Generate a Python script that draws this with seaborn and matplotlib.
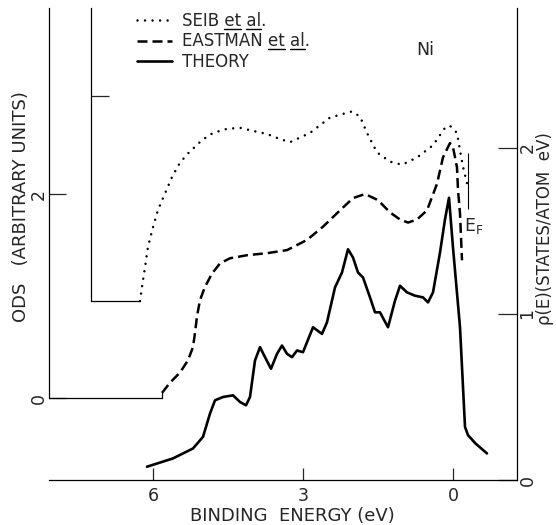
import numpy as np
import pandas as pd
import matplotlib
matplotlib.use("Agg")
import matplotlib.pyplot as plt
import seaborn as sns
from matplotlib.lines import Line2D

sns.set_style("white")
plt.rcParams['font.family'] = ['DejaVu Sans']

# ---------------- data ----------------
# Theory density of states (right axis, states/atom eV)
theory_E = [6.12, 5.6, 5.2, 5.0, 4.86, 4.76, 4.6, 4.4, 4.26, 4.14, 4.06, 3.96, 3.86,
            3.76, 3.64, 3.52, 3.42, 3.32, 3.22, 3.12, 3.0, 2.92, 2.8, 2.62, 2.52,
            2.36, 2.22, 2.1, 2.0, 1.9, 1.8, 1.66, 1.56, 1.46, 1.3, 1.16, 1.06, 0.92,
            0.76, 0.6, 0.5, 0.4, 0.26, 0.16, 0.08, 0.0, -0.14, -0.24, -0.3, -0.45, -0.68]
theory_rho = [0.08, 0.13, 0.19, 0.26, 0.40, 0.48, 0.50, 0.51, 0.47, 0.45, 0.50, 0.72, 0.80,
              0.74, 0.67, 0.76, 0.81, 0.76, 0.74, 0.78, 0.77, 0.83, 0.92, 0.88, 0.95,
              1.16, 1.25, 1.39, 1.34, 1.25, 1.22, 1.10, 1.01, 1.01, 0.92, 1.08, 1.17, 1.13,
              1.11, 1.10, 1.07, 1.13, 1.37, 1.57, 1.70, 1.40, 0.92, 0.32, 0.27, 0.22, 0.16]

# Eastman et al. (outer left ODS axis)
eastman_E = [5.82, 5.66, 5.46, 5.3, 5.2, 5.16, 5.12, 5.06, 4.96, 4.82, 4.66, 4.46, 4.12,
             3.72, 3.32, 2.92, 2.6, 2.26, 2.0, 1.76, 1.5, 1.26, 1.06, 0.9, 0.72, 0.52,
             0.32, 0.2, 0.06, 0.0, -0.08, -0.1, -0.14, -0.18]
eastman_ods = [0.05, 0.15, 0.25, 0.37, 0.50, 0.64, 0.80, 0.96, 1.09, 1.22, 1.32, 1.37, 1.40,
               1.42, 1.45, 1.55, 1.68, 1.84, 1.96, 2.0, 1.94, 1.82, 1.75, 1.72, 1.75, 1.84,
               2.1, 2.36, 2.5, 2.46, 2.26, 2.04, 1.81, 1.35]

# Seib et al. (inner left ODS axis)
seib_E = [6.26, 6.22, 6.16, 6.1, 6.0, 5.9, 5.76, 5.62, 5.46, 5.3, 5.02, 4.8, 4.52, 4.26,
          4.0, 3.72, 3.46, 3.26, 2.86, 2.46, 2.02, 1.86, 1.72, 1.52, 1.26, 1.02, 0.72,
          0.4, 0.16, 0.06, -0.08, -0.14, -0.2, -0.28, -0.32]
seib_ods = [0.0, 0.14, 0.33, 0.53, 0.72, 0.89, 1.05, 1.21, 1.35, 1.44, 1.57, 1.64, 1.68, 1.69,
            1.66, 1.63, 1.58, 1.55, 1.64, 1.79, 1.85, 1.80, 1.64, 1.45, 1.36, 1.33, 1.40,
            1.52, 1.69, 1.71, 1.64, 1.47, 1.31, 1.15, 1.10]

x_ticks = [6, 3, 0]
rho_ticks = [0, 1, 2]
ods_ticks = [0, 2]
labels = ["SEIB et al.", "EASTMAN et al.", "THEORY"]

# ---------------- figure ----------------
W, H = 556, 525
fig = plt.figure(figsize=(W / 100, H / 100), dpi=100)
x0p, x1p, y0p, y1p = 49, 517, 480, 8
ax = fig.add_axes([x0p / W, (H - y0p) / H, (x1p - x0p) / W, (y0p - y1p) / H])
ax.patch.set_alpha(0)

xl = (8.08, -1.28)
ax.set_xlim(*xl)
ax.set_ylim(0, 2.843)

ax2 = ax.twinx()
ax2.set_ylim(-0.804, 3.824)
ax3 = ax.twinx()
ax3.set_ylim(-1.746, 2.859)
for a in (ax2, ax3):
    a.patch.set_alpha(0)

lw_ax = 0.9
for s in ['top', 'left']:
    ax.spines[s].set_visible(False)
for s in ['bottom', 'right']:
    ax.spines[s].set_linewidth(lw_ax)
    ax.spines[s].set_color('black')
for a in (ax2, ax3):
    for s in ['top', 'right', 'bottom']:
        a.spines[s].set_visible(False)
    a.spines['left'].set_linewidth(lw_ax)
    a.spines['left'].set_color('black')
    a.spines['left'].set_visible(True)

ax2.spines['left'].set_bounds(0, ax2.get_ylim()[1])
inner_x = 7.24
ax3.spines['left'].set_position(('data', inner_x))
ax3.spines['left'].set_bounds(0, ax3.get_ylim()[1])

# ticks
ax.set_xticks(x_ticks)
ax.set_xticklabels([str(v) for v in x_ticks])
ax.tick_params(axis='x', direction='in', length=8.6, width=lw_ax, pad=5,
               labelsize=12.5, top=False, bottom=True)
ax.yaxis.set_ticks_position('right')
ax.set_yticks(rho_ticks)
ax.set_yticklabels([str(v) for v in rho_ticks])
ax.tick_params(axis='y', direction='in', length=13.5, width=lw_ax, pad=1,
               labelsize=12.5, labelrotation=90, left=False, right=True,
               labelleft=False, labelright=True)
for t in ax.get_yticklabels():
    t.set_va('center')

ax2.yaxis.set_ticks_position('left')
ax2.set_yticks(ods_ticks)
ax2.set_yticklabels([str(v) for v in ods_ticks])
ax2.tick_params(axis='y', direction='in', length=12, width=lw_ax, pad=1,
                labelsize=12.5, labelrotation=90, left=True, right=False,
                labelleft=True, labelright=False)
for t in ax2.get_yticklabels():
    t.set_va('center')

ax3.yaxis.set_ticks_position('left')
ax3.set_yticks([2])
ax3.tick_params(axis='y', direction='in', length=13, width=lw_ax, left=True,
                right=False, labelleft=False, labelright=False)

# curves
df_t = pd.DataFrame({"E": theory_E, "v": theory_rho})
df_e = pd.DataFrame({"E": eastman_E, "v": eastman_ods})
df_s = pd.DataFrame({"E": seib_E, "v": seib_ods})

sns.lineplot(data=df_t, x="E", y="v", ax=ax, color='black', lw=1.9,
             sort=False, estimator=None, legend=False)
l_theory = ax.lines[-1]
l_theory.set_solid_joinstyle('round')

sns.lineplot(data=df_e, x="E", y="v", ax=ax2, color='black', lw=1.8,
             sort=False, estimator=None, legend=False)
l_east = ax2.lines[-1]
l_east.set_linestyle((0, (4.0, 2.0)))

sns.lineplot(data=df_s, x="E", y="v", ax=ax3, color='black', lw=1.8,
             sort=False, estimator=None, legend=False)
l_seib = ax3.lines[-1]
l_seib.set_linestyle((0, (0.01, 3.0)))
l_seib.set_dash_capstyle('round')

# baselines of the offset ODS scales
ax2.plot([xl[0], eastman_E[0], eastman_E[0]], [0, 0, eastman_ods[0]],
         color='black', lw=lw_ax)
ax3.plot([inner_x, seib_E[0]], [0, 0], color='black', lw=lw_ax)

# Fermi level marker
ax.vlines(-0.30, 1.63, 1.97, color='black', lw=0.8)
ax.text(-0.42, 1.53, "E$_\\mathregular{F}$", fontsize=12.5, ha='center', va='center')
ax.text(0.56, 2.59, "Ni", fontsize=12.5, ha='center', va='center')

# axis labels
ax.set_xlabel("BINDING  ENERGY (eV)", fontsize=13)
ax.xaxis.set_label_coords((292 - x0p) / (x1p - x0p), (y0p - 516) / (y0p - y1p))
ax.xaxis.label.set_va('center')

ax2.set_ylabel("ODS   (ARBITRARY UNITS)", fontsize=13)
ax2.yaxis.set_label_position('left')
ax2.yaxis.set_label_coords((21 - x0p) / (x1p - x0p), (y0p - 207) / (y0p - y1p))
ax2.yaxis.label.set_va('center')

ax.yaxis.set_label_position('right')
ax.set_ylabel("ρ(E)(STATES/ATOM  eV)", fontsize=12, rotation=90)
ax.yaxis.set_label_coords((545 - x0p) / (x1p - x0p), (y0p - 229) / (y0p - y1p))
ax.yaxis.label.set_va('center')
ax.yaxis.label.set_ha('center')

# legend
l_seib.set_label(labels[0])
l_east.set_label(labels[1])
l_theory.set_label(labels[2])
leg = ax3.legend(handles=[l_seib, l_east, l_theory], loc='upper left',
                 bbox_to_anchor=(137 / W, 1 - 12 / H), bbox_transform=fig.transFigure,
                 frameon=False, fontsize=12, handlelength=2.1, handletextpad=0.6,
                 labelspacing=0.15, borderpad=0, borderaxespad=0)

# underline "et" and "al" in legend labels
fig.canvas.draw()
renderer = fig.canvas.get_renderer()
inv = fig.transFigure.inverted()
for t in leg.get_texts():
    s = t.get_text()
    if "et al" not in s:
        continue
    prop = t.get_fontproperties()
    bb = t.get_window_extent(renderer)
    _, _, desc = renderer.get_text_width_height_descent("lp", prop, ismath=False)
    base = bb.y0 + desc

    def w(txt):
        return renderer.get_text_width_height_descent(txt, prop, ismath=False)[0]
    i = s.index("et al")
    segs = [(w(s[:i + 2]) - w("et"), w(s[:i + 2])),
            (w(s[:i + 5]) - w("al"), w(s[:i + 5]))]
    for a0, a1 in segs:
        p0 = inv.transform((bb.x0 + a0, base - 2.5))
        p1 = inv.transform((bb.x0 + a1, base - 2.5))
        fig.add_artist(Line2D([p0[0], p1[0]], [p0[1], p1[1]], color='black', lw=1.0,
                              transform=fig.transFigure))

fig.savefig("out.png", dpi=100)
